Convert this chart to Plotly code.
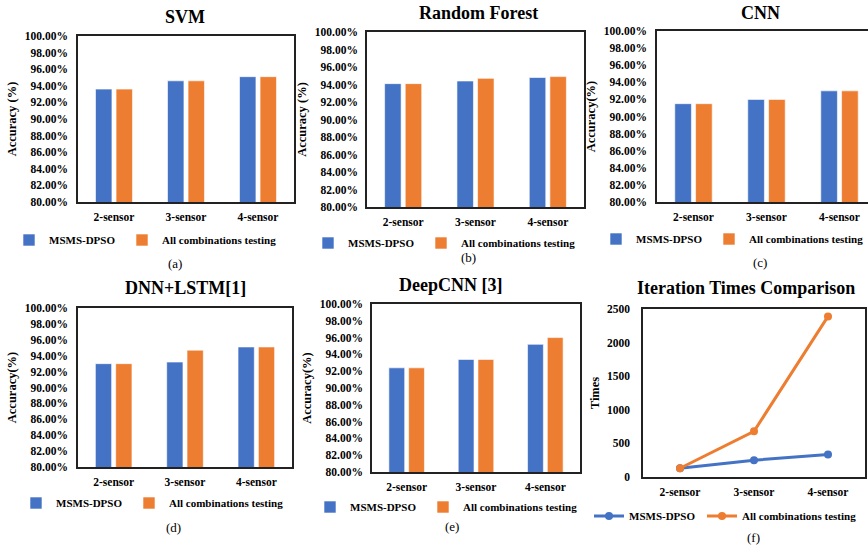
import plotly.graph_objects as go

# ---------------- data ----------------
categories = ["2-sensor", "3-sensor", "4-sensor"]
series_names = ["MSMS-DPSO", "All combinations testing"]

svm_dpso = [93.6, 94.6, 95.1]
svm_all = [93.6, 94.6, 95.1]
rf_dpso = [94.1, 94.4, 94.8]
rf_all = [94.1, 94.7, 94.9]
cnn_dpso = [91.5, 92.0, 93.0]
cnn_all = [91.5, 92.0, 93.0]
dnn_dpso = [93.0, 93.2, 95.1]
dnn_all = [93.0, 94.7, 95.1]
deep_dpso = [92.4, 93.4, 95.2]
deep_all = [92.4, 93.4, 96.0]
iter_dpso = [130, 250, 335]
iter_all = [130, 680, 2390]

acc_ticks = [80, 82, 84, 86, 88, 90, 92, 94, 96, 98, 100]
acc_tick_labels = ["80.00%", "82.00%", "84.00%", "86.00%", "88.00%", "90.00%",
                   "92.00%", "94.00%", "96.00%", "98.00%", "100.00%"]
iter_ticks = [0, 500, 1000, 1500, 2000, 2500]

panel_titles = ["SVM", "Random Forest", "CNN", "DNN+LSTM[1]", "DeepCNN [3]",
                "Iteration Times Comparison"]
panel_labels = ["(a)", "(b)", "(c)", "(d)", "(e)", "(f)"]
y_titles = ["Accuracy (%)", "Accuracy (%)", "Accuracy(%)", "Accuracy(%)",
            "Accuracy(%)", "Times"]

BLUE = "#4472C4"
ORANGE = "#ED7D31"
FONT = "Liberation Serif"

# ---------------- layout geometry (page pixels) ----------------
W, H = 868, 546
# plot boxes: left, right, top, bottom
boxes = [
    (78, 294, 36, 202),
    (367, 584, 32, 207),
    (657, 868, 31, 202),
    (78, 292, 308, 467),
    (372, 580, 304, 472),
    (643, 865, 309, 477),
]
title_pos = [(185, 17), (478, 13), (760, 13), (185, 288), (450, 285), (746, 288)]
label_pos = [(175, 263), (468, 257), (760, 262), (173, 527), (452, 526), (753, 537)]
legend_text_start = [(48, 240), (347, 243), (635, 239), (55, 503), (349, 507), (628, 516)]
tick_gap = [6, 5, 6, 6, 5, 9]


def px_x(a):
    return a / W


def px_y(a):
    return 1 - a / H


bar_data = [
    (svm_dpso, svm_all),
    (rf_dpso, rf_all),
    (cnn_dpso, cnn_all),
    (dnn_dpso, dnn_all),
    (deep_dpso, deep_all),
]

fig = go.Figure()

for i, (d1, d2) in enumerate(bar_data):
    ax = "" if i == 0 else str(i + 1)
    lg = "legend" if i == 0 else "legend" + str(i + 1)
    fig.add_trace(go.Bar(x=categories, y=d1, name=series_names[0], legendwidth=68,
                         marker=dict(color=BLUE, line=dict(color="rgba(255,255,255,0.6)", width=1)),
                         xaxis="x" + ax, yaxis="y" + ax, legend=lg))
    fig.add_trace(go.Bar(x=categories, y=d2, name=series_names[1], legendwidth=122,
                         marker=dict(color=ORANGE, line=dict(color="rgba(255,255,255,0.6)", width=1)),
                         xaxis="x" + ax, yaxis="y" + ax, legend=lg))

fig.add_trace(go.Scatter(x=categories, y=iter_dpso, name=series_names[0], legendwidth=68,
                         mode="lines+markers", line=dict(color=BLUE, width=3),
                         marker=dict(color=BLUE, size=8),
                         xaxis="x6", yaxis="y6", legend="legend6"))
fig.add_trace(go.Scatter(x=categories, y=iter_all, name=series_names[1], legendwidth=122,
                         mode="lines+markers", line=dict(color=ORANGE, width=3),
                         marker=dict(color=ORANGE, size=8),
                         xaxis="x6", yaxis="y6", legend="legend6"))

layout = dict(
    width=W, height=H,
    margin=dict(l=0, r=0, t=0, b=0, autoexpand=False),
    paper_bgcolor="white", plot_bgcolor="white",
    barmode="group", bargap=0.43, bargroupgap=0.2,
    font=dict(family=FONT, color="black"),
    annotations=[],
)

for i in range(6):
    ax = "" if i == 0 else str(i + 1)
    l, r, t, b = boxes[i]
    xrange = [-0.5, 2.5]
    if i == 2:
        xrange = [-0.5, -0.5 + (r - l) / 73.0]
    layout["xaxis" + ax] = dict(
        domain=[px_x(l), min(1.0, px_x(r))], anchor="y" + ax, range=xrange,
        showline=True, linecolor="#222", linewidth=1.5, mirror=True,
        showgrid=False, ticks="", zeroline=False, ticklabelstandoff=3,
        tickfont=dict(family=FONT, size=11.5, weight="bold", color="black"),
        fixedrange=True, automargin=False,
    )
    yax = dict(
        domain=[px_y(b), px_y(t)], anchor="x" + ax,
        showline=True, linecolor="#222", linewidth=1.5, mirror=(i != 2),
        showgrid=False, ticks="", zeroline=False, ticklabelstandoff=tick_gap[i],
        tickfont=dict(family=FONT, size=11.5, weight="bold", color="black"),
        title=dict(text=y_titles[i], standoff=5,
                   font=dict(family=FONT, size=12.5, weight="bold", color="black")),
        fixedrange=True, automargin=False,
    )
    if i < 5:
        yax.update(range=[80, 100], tickvals=acc_ticks, ticktext=acc_tick_labels)
    else:
        yax.update(range=[0, 2500], tickvals=iter_ticks)
    layout["yaxis" + ax] = yax

    tx0, ly = legend_text_start[i]
    layout["legend" if i == 0 else "legend" + str(i + 1)] = dict(
        x=max(0.0, px_x(tx0 - 39)), y=px_y(ly), xanchor="left", yanchor="middle",
        orientation="h", bgcolor="rgba(0,0,0,0)",
        font=dict(family=FONT, size=11, weight="bold", color="black"),
        itemwidth=30, traceorder="normal",
    )

    tx, ty = title_pos[i]
    layout["annotations"].append(dict(
        text=panel_titles[i], x=px_x(tx), y=px_y(ty), xref="paper", yref="paper",
        xanchor="center", yanchor="middle", showarrow=False,
        font=dict(family=FONT, size=18, weight="bold", color="black")))
    lx, lyy = label_pos[i]
    layout["annotations"].append(dict(
        text=panel_labels[i], x=px_x(lx), y=px_y(lyy), xref="paper", yref="paper",
        xanchor="center", yanchor="middle", showarrow=False,
        font=dict(family=FONT, size=13, color="black")))

fig.update_layout(**layout)
fig.write_html(
    "out.html",
    config={"displayModeBar": False},
    post_script="document.body.style.margin='0';document.body.style.overflow='hidden';",
)
